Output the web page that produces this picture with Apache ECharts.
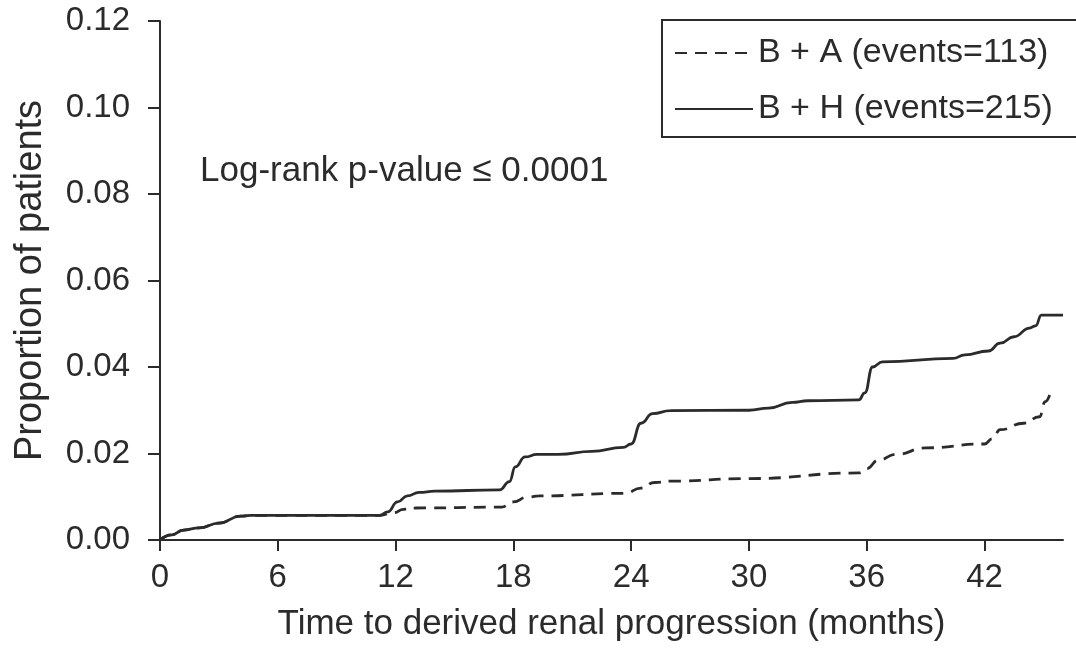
<!DOCTYPE html>
<html>
<head>
<meta charset="utf-8">
<script src="https://cdn.jsdelivr.net/npm/echarts@6/dist/echarts.min.js"></script>
<style>
  html, body { margin: 0; padding: 0; background: #fff; }
  #chart { width: 1076px; height: 654px; }
</style>
</head>
<body>
<div id="chart"></div>
<script>
// Cumulative proportion of patients with derived renal progression, by month
const bhMonths = [0, 0.6, 1.2, 2, 3, 4.1, 4.6, 11.2, 11.6, 12.1, 12.6, 13.2, 14, 17.3, 17.8, 18.1, 18.6, 19.2, 20.3, 22, 23.6, 24, 24.5, 25.1, 26, 30, 31, 32.2, 33, 35.6, 35.9, 36.3, 36.8, 40.4, 41, 42.2, 42.8, 43.5, 44.3, 44.6, 44.9, 46];
const bhValues = [0, 0.0012, 0.0023, 0.0028, 0.0039, 0.0055, 0.0057, 0.0057, 0.0065, 0.0088, 0.0102, 0.011, 0.0113, 0.0116, 0.0135, 0.0169, 0.0192, 0.0198, 0.0198, 0.0205, 0.0214, 0.0222, 0.027, 0.0292, 0.0299, 0.030, 0.0305, 0.0318, 0.0322, 0.0324, 0.034, 0.040, 0.0412, 0.042, 0.0428, 0.0437, 0.0455, 0.047, 0.049, 0.0495, 0.052, 0.052];

const baMonths = [0, 0.6, 1.2, 2, 3, 4.1, 4.6, 11.2, 11.9, 12.4, 13, 17.4, 18, 18.7, 19.3, 23.7, 24.5, 25.2, 26, 30, 35.6, 36, 36.6, 37.5, 39, 42, 42.4, 42.8, 44, 44.8, 45.1, 45.4];
const baValues = [0, 0.0012, 0.0023, 0.0028, 0.0039, 0.0055, 0.0057, 0.0057, 0.0063, 0.0071, 0.0074, 0.0076, 0.0088, 0.0099, 0.0102, 0.0108, 0.012, 0.0133, 0.0136, 0.0142, 0.0155, 0.0165, 0.0185, 0.0198, 0.0213, 0.0222, 0.0234, 0.0255, 0.027, 0.0285, 0.032, 0.0347];

const xTicks = [0, 6, 12, 18, 24, 30, 36, 42];
const yTicks = [0, 0.02, 0.04, 0.06, 0.08, 0.10, 0.12];

const seriesNames = ['B + A (events=113)', 'B + H (events=215)'];
const annotation = 'Log-rank p-value \u2264 0.0001';

const pair = (xs, ys) => xs.map((x, i) => [x, ys[i]]);

const ink = '#2b2b2b';
const font = 'Liberation Sans, Arial, Helvetica, sans-serif';

const chart = echarts.init(document.getElementById('chart'), null, { renderer: 'canvas' });

chart.setOption({
  backgroundColor: '#ffffff',
  animation: false,
  grid: { left: 160, right: 13, top: 21, bottom: 114, containLabel: false },
  xAxis: {
    type: 'value',
    min: 0,
    max: 46,
    name: 'Time to derived renal progression (months)',
    nameLocation: 'middle',
    nameGap: 67,
    nameTextStyle: { color: ink, fontSize: 35, fontFamily: font },
    splitLine: { show: false },
    axisLine: { show: true, onZero: false, lineStyle: { color: ink, width: 2 } },
    axisTick: { show: true, inside: false, length: 11, customValues: xTicks, lineStyle: { color: ink, width: 2 } },
    axisLabel: { customValues: xTicks, color: ink, fontSize: 33, fontFamily: font, margin: 21 }
  },
  yAxis: {
    type: 'value',
    min: 0,
    max: 0.12,
    interval: 0.02,
    name: 'Proportion of patients',
    nameLocation: 'middle',
    nameGap: 110,
    nameRotate: 90,
    nameTextStyle: { color: ink, fontSize: 38, fontFamily: font },
    splitLine: { show: false },
    axisLine: { show: true, onZero: false, lineStyle: { color: ink, width: 2 } },
    axisTick: { show: true, inside: false, length: 12, customValues: yTicks, lineStyle: { color: ink, width: 2 } },
    axisLabel: {
      customValues: yTicks,
      color: ink, fontSize: 33, fontFamily: font, margin: 30,
      formatter: v => v.toFixed(2)
    }
  },
  legend: {
    orient: 'vertical',
    left: 662,
    top: 20,
    padding: [16, 40, 11, 12],
    itemGap: 22,
    itemWidth: 78,
    itemHeight: 28,
    borderColor: ink,
    borderWidth: 2,
    borderRadius: 0,
    backgroundColor: '#fff',
    itemStyle: { opacity: 0 },
    textStyle: { color: ink, fontSize: 34, fontFamily: font, lineHeight: 28 },
    data: seriesNames
  },
  graphic: [{
    type: 'text',
    left: 200,
    top: 154,
    style: { text: annotation, fill: ink, fontSize: 35, fontFamily: font }
  }],
  series: [
    {
      name: seriesNames[0],
      type: 'line',
      data: pair(baMonths, baValues),
      symbol: 'none',
      smooth: 0.5,
      smoothMonotone: 'x',
      lineStyle: { color: ink, width: 2.8, type: [12, 8] },
      itemStyle: { color: ink },
      z: 2
    },
    {
      name: seriesNames[1],
      type: 'line',
      data: pair(bhMonths, bhValues),
      symbol: 'none',
      smooth: 0.5,
      smoothMonotone: 'x',
      lineStyle: { color: ink, width: 2.8, type: 'solid' },
      itemStyle: { color: ink },
      z: 3
    }
  ]
});
</script>
</body>
</html>
